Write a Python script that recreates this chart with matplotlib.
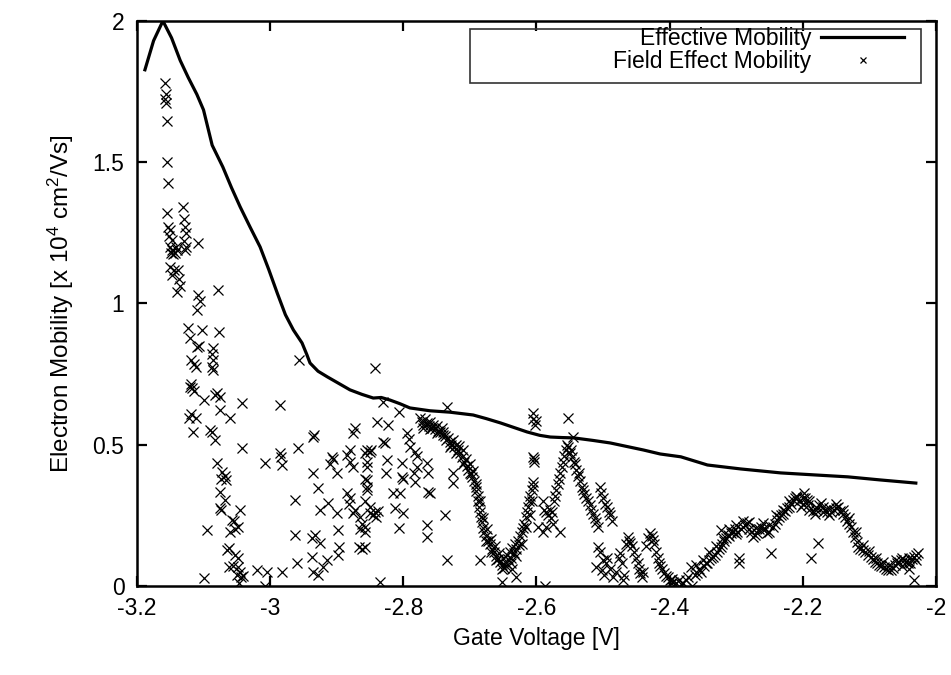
import matplotlib
matplotlib.use('Agg')
import matplotlib.pyplot as plt
from matplotlib.patches import Rectangle

plt.rcParams['font.family'] = ['Liberation Sans', 'DejaVu Sans']
plt.rcParams['mathtext.fontset'] = 'custom'
plt.rcParams['mathtext.rm'] = 'Liberation Sans'
plt.rcParams['mathtext.default'] = 'regular'
plt.rcParams['axes.unicode_minus'] = False

# effective mobility curve
eff_v = [-3.188, -3.175, -3.161, -3.148, -3.135, -3.123, -3.110, -3.100, -3.087,
         -3.071, -3.058, -3.045, -3.030, -3.015, -3.002, -2.989, -2.977, -2.965,
         -2.952, -2.945, -2.940, -2.928, -2.914, -2.897, -2.880, -2.862, -2.845,
         -2.833, -2.820, -2.805, -2.790, -2.775, -2.760, -2.730, -2.695, -2.675,
         -2.654, -2.634, -2.614, -2.595, -2.579, -2.560, -2.544, -2.515, -2.489,
         -2.465, -2.439, -2.414, -2.383, -2.343, -2.293, -2.233, -2.183, -2.132,
         -2.083, -2.030]
eff_mu = [1.827, 1.93, 2.0, 1.94, 1.86, 1.80, 1.74, 1.685, 1.56,
          1.483, 1.41, 1.342, 1.27, 1.20, 1.12, 1.035, 0.96, 0.906,
          0.86, 0.82, 0.789, 0.76, 0.74, 0.717, 0.694, 0.678, 0.665,
          0.667, 0.658, 0.645, 0.63, 0.625, 0.62, 0.615, 0.605, 0.592,
          0.577, 0.561, 0.545, 0.533, 0.527, 0.525, 0.524, 0.515, 0.506,
          0.494, 0.481, 0.467, 0.457, 0.428, 0.414, 0.400, 0.393, 0.386,
          0.375, 0.364]

# field effect mobility scatter
fe_v = [
    # column near the peak
    -3.158, -3.157, -3.158, -3.156, -3.155, -3.155, -3.153, -3.155, -3.153, -3.150,
    -3.152, -3.148, -3.150, -3.147, -3.149, -3.146, -3.150, -3.148, -3.145, -3.143,
    -3.140, -3.141, -3.138, -3.137, -3.140, -3.136, -3.131, -3.129, -3.128, -3.127,
    -3.130, -3.128, -3.126, -3.108, -3.108, -3.105, -3.110, -3.078,
    # 0.5 - 0.9 group
    -3.123, -3.102, -3.077, -3.121, -3.110, -3.107, -3.119, -3.112, -3.114, -3.086,
    -3.087, -3.085, -3.086, -3.088, -3.120, -3.117, -3.119, -3.115, -3.100, -3.080,
    -3.075, -3.082, -3.075, -3.060, -3.042, -3.122, -3.119, -3.112, -3.116, -3.090,
    -3.088, -3.083, -3.042,
    # falling column
    -3.080, -3.072, -3.067, -3.073, -3.066, -3.075, -3.068, -3.075, -3.073, -3.045,
    -3.057, -3.054, -3.048, -3.060, -3.052, -3.095, -3.062, -3.064, -3.052, -3.048,
    -3.062, -3.055, -3.048, -3.045, -3.049, -3.044, -3.047, -3.040, -3.020, -3.005,
    -3.007, -3.100,
    # scattered middle
    -3.008, -2.985, -2.983, -2.982, -2.985, -2.962, -2.962, -2.960, -2.982, -2.958,
    -2.956, -2.935, -2.934, -2.935, -2.928, -2.925, -2.937, -2.932, -2.925, -2.937,
    -2.935, -2.928, -2.920, -2.914, -2.907, -2.905, -2.910, -2.900, -2.913, -2.900,
    -2.898, -2.897, -2.898, -2.884, -2.880, -2.875, -2.873, -2.880, -2.875, -2.884,
    -2.880, -2.882, -2.875, -2.872, -2.865, -2.862, -2.865, -2.866, -2.862, -2.854,
    -2.849, -2.854, -2.855, -2.854, -2.850, -2.845, -2.841, -2.842, -2.839,
    -2.830, -2.823, -2.807, -2.830, -2.828, -2.857, -2.850, -2.824, -2.855, -2.826,
    -2.857, -2.854, -2.857, -2.850, -2.842, -2.838, -2.858, -2.858, -2.858, -2.802,
    -2.802, -2.800, -2.815, -2.805, -2.812, -2.800, -2.807, -2.794, -2.792, -2.790,
    -2.782, -2.779, -2.780, -2.784, -2.782, -2.764, -2.763, -2.763, -2.760, -2.764,
    -2.764, -2.734, -2.737, -2.734, -2.725, -2.725, -2.835, -2.684,
    # first dense dip
    -2.775, -2.772, -2.770, -2.768, -2.765, -2.762, -2.760, -2.757, -2.755, -2.752,
    -2.750, -2.748, -2.745, -2.742, -2.740, -2.737, -2.735, -2.733, -2.730, -2.728,
    -2.725, -2.723, -2.720, -2.718, -2.716, -2.714, -2.712, -2.710, -2.708, -2.706,
    -2.704, -2.702, -2.700, -2.698, -2.696, -2.695, -2.693, -2.691, -2.690, -2.688,
    -2.687, -2.686, -2.684, -2.683, -2.682, -2.680, -2.678, -2.676, -2.674, -2.672,
    -2.670, -2.668, -2.666, -2.664, -2.662, -2.660, -2.658, -2.656, -2.654, -2.652,
    -2.650, -2.648, -2.646, -2.644, -2.642, -2.640, -2.638, -2.636, -2.634, -2.632,
    -2.630, -2.628, -2.626, -2.624, -2.622, -2.620, -2.618, -2.616, -2.614, -2.612,
    -2.611, -2.609, -2.607, -2.605, -2.652, -2.630, -2.636,
    -2.770, -2.760, -2.750, -2.740, -2.730, -2.720, -2.710, -2.700, -2.690, -2.685,
    -2.680, -2.675, -2.668, -2.660, -2.652, -2.645, -2.638, -2.630, -2.622, -2.615,
    -2.610, -2.607,
    # around -2.6
    -2.605, -2.605, -2.600, -2.602, -2.605, -2.604, -2.603, -2.605, -2.597, -2.590,
    -2.587, -2.553, -2.545,
    # second peak
    -2.590, -2.588, -2.585, -2.582, -2.580, -2.578, -2.576, -2.574, -2.572, -2.570,
    -2.568, -2.566, -2.564, -2.562, -2.560, -2.558, -2.556, -2.554, -2.552, -2.550,
    -2.548, -2.546, -2.544, -2.542, -2.540, -2.538, -2.536, -2.534, -2.532, -2.530,
    -2.528, -2.525, -2.522, -2.520, -2.518, -2.515, -2.512, -2.510, -2.508, -2.505,
    -2.503, -2.500, -2.497, -2.494, -2.491, -2.489, -2.487, -2.585, -2.575, -2.565,
    # low bumps
    -2.508, -2.505, -2.510, -2.500, -2.496, -2.494, -2.498, -2.502, -2.490, -2.485,
    -2.480, -2.476, -2.474, -2.472, -2.470, -2.468, -2.465, -2.463, -2.461, -2.459,
    -2.456, -2.453, -2.450, -2.448, -2.446, -2.444, -2.442, -2.440, -2.435, -2.432,
    -2.429, -2.427, -2.425, -2.423, -2.420, -2.418, -2.416, -2.414, -2.412, -2.408,
    -2.405, -2.403, -2.400, -2.398, -2.396, -2.394, -2.390, -2.386, -2.382, -2.379,
    # broad hump
    -2.375, -2.372, -2.368, -2.366, -2.362, -2.358, -2.355, -2.352, -2.348, -2.345,
    -2.343, -2.340, -2.337, -2.334, -2.331, -2.328, -2.326, -2.323, -2.321, -2.323,
    -2.318, -2.315, -2.312, -2.310, -2.308, -2.305, -2.302, -2.300, -2.298, -2.296,
    -2.295, -2.292, -2.289, -2.286, -2.283, -2.280, -2.277, -2.274, -2.271, -2.268,
    -2.265, -2.262, -2.259, -2.256, -2.253, -2.250, -2.247, -2.245, -2.242, -2.239,
    -2.236, -2.233, -2.230, -2.227, -2.224, -2.221, -2.218, -2.215, -2.212, -2.209,
    -2.206, -2.203, -2.200, -2.198, -2.196, -2.194, -2.192, -2.190, -2.188, -2.185,
    -2.182, -2.180, -2.177, -2.175, -2.173, -2.170, -2.167, -2.164, -2.160, -2.157,
    -2.153, -2.150, -2.147, -2.144, -2.140, -2.137, -2.134, -2.131, -2.128, -2.125,
    -2.122, -2.119, -2.117, -2.114, -2.110, -2.106, -2.102, -2.098, -2.095, -2.092,
    -2.088, -2.085, -2.082, -2.078, -2.075, -2.072, -2.068, -2.065, -2.062, -2.058,
    -2.055, -2.052, -2.048, -2.045, -2.042, -2.038, -2.035, -2.033, -2.030, -2.027,
    -2.032, -2.040, -2.050,
    -2.360, -2.350, -2.340, -2.330, -2.320, -2.310, -2.300, -2.290, -2.280, -2.270,
    -2.260, -2.250, -2.240, -2.230, -2.220, -2.210, -2.200, -2.190, -2.180, -2.170,
    -2.160, -2.150, -2.140, -2.130, -2.120, -2.110, -2.100, -2.090, -2.080, -2.070,
    -2.060, -2.050, -2.040, -2.030,
]
fe_mu = [
    1.78, 1.74, 1.725, 1.71, 1.645, 1.50, 1.425, 1.32, 1.27, 1.26,
    1.24, 1.225, 1.20, 1.19, 1.18, 1.175, 1.13, 1.10, 1.12, 1.18,
    1.19, 1.20, 1.12, 1.085, 1.04, 1.06, 1.34, 1.30, 1.27, 1.25,
    1.22, 1.19, 1.20, 1.215, 1.03, 1.01, 0.975, 1.048,
    0.913, 0.906, 0.899, 0.878, 0.846, 0.85, 0.80, 0.775, 0.785, 0.842,
    0.82, 0.80, 0.765, 0.775, 0.705, 0.70, 0.715, 0.69, 0.658, 0.683,
    0.669, 0.675, 0.623, 0.595, 0.648, 0.595, 0.61, 0.595, 0.545, 0.552,
    0.545, 0.517, 0.488,
    0.435, 0.404, 0.39, 0.38, 0.375, 0.333, 0.304, 0.276, 0.27, 0.269,
    0.234, 0.23, 0.209, 0.19, 0.20, 0.198, 0.134, 0.128, 0.11, 0.10,
    0.067, 0.072, 0.067, 0.05, 0.04, 0.03, 0.01, 0.035, 0.057, 0.05,
    0.0, 0.028,
    0.435, 0.47, 0.455, 0.428, 0.641, 0.304, 0.18, 0.081, 0.05, 0.488,
    0.80, 0.527, 0.535, 0.40, 0.347, 0.269, 0.17, 0.18, 0.152, 0.103,
    0.05, 0.04, 0.067, 0.092, 0.457, 0.45, 0.43, 0.40, 0.294, 0.258,
    0.198, 0.138, 0.11, 0.464, 0.48, 0.542, 0.56, 0.44, 0.42, 0.329,
    0.31, 0.29, 0.258, 0.27, 0.244, 0.22, 0.20, 0.138, 0.13, 0.481,
    0.48, 0.42, 0.375, 0.35, 0.28, 0.251, 0.245, 0.772, 0.58,
    0.651, 0.57, 0.616, 0.51, 0.505, 0.47, 0.475, 0.446, 0.44, 0.40,
    0.38, 0.34, 0.30, 0.258, 0.26, 0.265, 0.209, 0.19, 0.138, 0.435,
    0.386, 0.38, 0.329, 0.329, 0.276, 0.258, 0.205, 0.542, 0.52, 0.492,
    0.474, 0.46, 0.421, 0.40, 0.368, 0.435, 0.40, 0.333, 0.33, 0.216,
    0.173, 0.634, 0.251, 0.092, 0.40, 0.365, 0.014, 0.092,
    0.595, 0.58, 0.57, 0.59, 0.575, 0.565, 0.58, 0.56, 0.57, 0.555,
    0.565, 0.55, 0.545, 0.56, 0.535, 0.53, 0.515, 0.525, 0.51, 0.50,
    0.515, 0.49, 0.50, 0.48, 0.495, 0.47, 0.455, 0.48, 0.44, 0.45,
    0.425, 0.41, 0.43, 0.395, 0.385, 0.405, 0.37, 0.35, 0.335, 0.32,
    0.30, 0.28, 0.26, 0.245, 0.225, 0.205, 0.19, 0.175, 0.20, 0.16,
    0.15, 0.165, 0.13, 0.12, 0.14, 0.105, 0.095, 0.115, 0.085, 0.075,
    0.10, 0.065, 0.08, 0.11, 0.095, 0.12, 0.10, 0.135, 0.115, 0.15,
    0.13, 0.16, 0.145, 0.175, 0.19, 0.205, 0.22, 0.245, 0.26, 0.28,
    0.30, 0.32, 0.34, 0.355, 0.015, 0.03, 0.06,
    0.56, 0.555, 0.54, 0.545, 0.49, 0.47, 0.43, 0.40, 0.36, 0.30,
    0.24, 0.16, 0.12, 0.09, 0.06, 0.07, 0.08, 0.105, 0.15, 0.21,
    0.25, 0.30,
    0.612, 0.59, 0.585, 0.57, 0.457, 0.44, 0.45, 0.368, 0.209, 0.19,
    0.0, 0.595, 0.527,
    0.30, 0.27, 0.26, 0.25, 0.27, 0.24, 0.26, 0.30, 0.32, 0.34,
    0.36, 0.38, 0.40, 0.42, 0.44, 0.46, 0.48, 0.50, 0.49, 0.47,
    0.48, 0.455, 0.44, 0.43, 0.41, 0.39, 0.40, 0.37, 0.35, 0.34,
    0.325, 0.31, 0.30, 0.285, 0.27, 0.255, 0.24, 0.225, 0.21, 0.35,
    0.33, 0.31, 0.29, 0.28, 0.26, 0.25, 0.23, 0.21, 0.22, 0.19,
    0.138, 0.12, 0.067, 0.09, 0.081, 0.10, 0.04, 0.055, 0.06, 0.03,
    0.05, 0.10, 0.117, 0.08, 0.02, 0.04, 0.15, 0.173, 0.16, 0.152,
    0.14, 0.12, 0.10, 0.08, 0.06, 0.046, 0.03, 0.05, 0.14, 0.17,
    0.187, 0.175, 0.163, 0.15, 0.12, 0.10, 0.081, 0.07, 0.06, 0.045,
    0.035, 0.032, 0.02, 0.01, 0.025, 0.015, 0.01, 0.02, 0.005, 0.01,
    0.02, 0.03, 0.067, 0.00, 0.04, 0.046, 0.06, 0.05, 0.07, 0.08,
    0.081, 0.09, 0.10, 0.103, 0.11, 0.12, 0.13, 0.138, 0.15, 0.198,
    0.16, 0.17, 0.18, 0.175, 0.187, 0.19, 0.20, 0.185, 0.19, 0.081,
    0.10, 0.20, 0.209, 0.215, 0.223, 0.20, 0.19, 0.173, 0.18, 0.187,
    0.20, 0.21, 0.223, 0.20, 0.187, 0.19, 0.117, 0.21, 0.22, 0.235,
    0.244, 0.25, 0.255, 0.265, 0.275, 0.28, 0.29, 0.304, 0.31, 0.315,
    0.30, 0.28, 0.29, 0.329, 0.31, 0.304, 0.285, 0.269, 0.099, 0.265,
    0.255, 0.27, 0.152, 0.285, 0.294, 0.28, 0.27, 0.26, 0.25, 0.26,
    0.269, 0.275, 0.28, 0.265, 0.255, 0.244, 0.23, 0.22, 0.209, 0.19,
    0.173, 0.155, 0.138, 0.13, 0.127, 0.12, 0.11, 0.103, 0.095, 0.085,
    0.081, 0.075, 0.07, 0.067, 0.06, 0.058, 0.057, 0.065, 0.075, 0.081,
    0.085, 0.09, 0.092, 0.085, 0.08, 0.081, 0.095, 0.103, 0.11, 0.117,
    0.021, 0.06, 0.07,
    0.075, 0.09, 0.12, 0.14, 0.17, 0.20, 0.215, 0.23, 0.225, 0.205,
    0.20, 0.215, 0.25, 0.27, 0.30, 0.32, 0.31, 0.30, 0.28, 0.26,
    0.275, 0.29, 0.27, 0.24, 0.19, 0.145, 0.125, 0.10, 0.085, 0.075,
    0.09, 0.10, 0.10, 0.09,
]

x_ticks = [-3.2, -3.0, -2.8, -2.6, -2.4, -2.2, -2.0]
x_labels = ['-3.2', '-3', '-2.8', '-2.6', '-2.4', '-2.2', '-2']
y_ticks = [0, 0.5, 1.0, 1.5, 2.0]
y_labels = ['0', '0.5', '1', '1.5', '2']

fig = plt.figure(figsize=(9.51, 6.75), dpi=100)
ax = fig.add_axes([0.144, 0.132, 0.840, 0.837])

ax.plot(eff_v, eff_mu, color='black', lw=2.3, label='Effective Mobility',
        solid_joinstyle='round', zorder=3)
ax.plot(fe_v, fe_mu, ls='none', marker='x', ms=7, mew=0.9, color='black',
        label='Field Effect Mobility', zorder=2)

ax.set_xlim(-3.2, -2.0)
ax.set_ylim(0, 2)
ax.set_xticks(x_ticks)
ax.set_xticklabels(x_labels)
ax.set_yticks(y_ticks)
ax.set_yticklabels(y_labels)
ax.tick_params(direction='in', top=True, right=True, length=7, width=1.6,
               labelsize=16.5)
ax.tick_params(axis='x', pad=8)
ax.tick_params(axis='y', pad=9)
for s in ax.spines.values():
    s.set_linewidth(1.8)

ax.set_xlabel('Gate Voltage [V]', fontsize=16.5, labelpad=5)
ax.set_ylabel('Electron Mobility [x 10$^{4}$ cm$^{2}$/Vs]', fontsize=17.5, labelpad=12)

leg = ax.legend(loc='upper right', bbox_to_anchor=(0.960, 0.990), frameon=False,
                markerfirst=False, fontsize=16.5, handlelength=3.6, handletextpad=0.45,
                borderaxespad=0, borderpad=0, labelspacing=0.0, markerscale=0.6)
ax.add_patch(Rectangle((0.417, 0.890), 0.564, 0.096, transform=ax.transAxes,
                       fill=False, lw=1.2, ec='#333333', zorder=4))

fig.savefig('out.png', dpi=100)
